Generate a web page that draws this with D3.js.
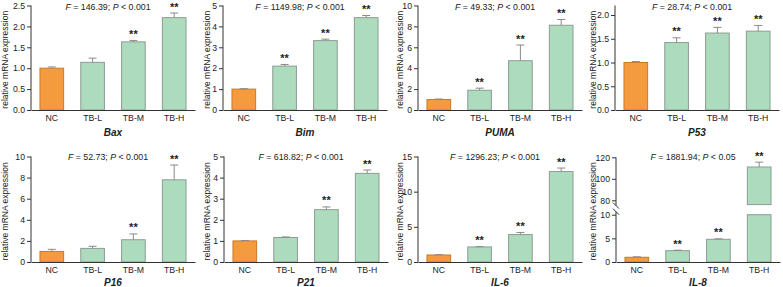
<!DOCTYPE html>
<html>
<head>
<meta charset="utf-8">
<script src="https://cdn.jsdelivr.net/npm/d3@7"></script>
<style>
  body { margin: 0; background: #fff; }
  svg { display: block; font-family: "Liberation Sans", Arial, sans-serif; }
  .tick text { font-size: 8.7px; fill: #222; }
  .domain, .tick line { stroke: #333; }
</style>
</head>
<body>
<div id="chart"></div>
<script>
// data
var groups = ["NC", "TB-L", "TB-M", "TB-H"];
var genes = ["Bax", "Bim", "PUMA", "P53", "P16", "P21", "IL-6", "IL-8"];
var fValues = ["146.39", "1149.98", "49.33", "28.74", "52.73", "618.82", "1296.23", "1881.94"];
var pValues = ["0.001", "0.001", "0.001", "0.001", "0.001", "0.001", "0.001", "0.05"];

var means = [
  [1.0, 1.14, 1.63, 2.21],
  [1.0, 2.1, 3.32, 4.42],
  [1.0, 1.89, 4.72, 8.11],
  [1.0, 1.42, 1.62, 1.66],
  [1.0, 1.29, 2.11, 7.79],
  [1.0, 1.16, 2.48, 4.2],
  [1.0, 2.14, 3.9, 12.86],
  [1.0, 2.4, 4.8, 111]
];
var errors = [
  [0.03, 0.1, 0.03, 0.11],
  [0.02, 0.08, 0.07, 0.1],
  [0.05, 0.2, 1.5, 0.55],
  [0.02, 0.1, 0.12, 0.12],
  [0.2, 0.2, 0.55, 1.4],
  [0.02, 0.03, 0.13, 0.16],
  [0.05, 0.05, 0.3, 0.5],
  [0.1, 0.1, 0.1, 4.5]
];
var stars = [
  ["", "", "**", "**"],
  ["", "**", "**", "**"],
  ["", "**", "**", "**"],
  ["", "**", "**", "**"],
  ["", "", "**", "**"],
  ["", "", "**", "**"],
  ["", "**", "**", "**"],
  ["", "**", "**", "**"]
];
var yMax = [2.5, 5, 10, 2.2, 10, 5, 15, 120];
var yTicks = [
  [0, 0.5, 1, 1.5, 2, 2.5],
  [0, 1, 2, 3, 4, 5],
  [0, 2, 4, 6, 8, 10],
  [0, 0.5, 1, 1.5, 2],
  [0, 2, 4, 6, 8, 10],
  [0, 1, 2, 3, 4, 5],
  [0, 5, 10, 15],
  [0, 5, 10]
];
// IL-8 broken axis
var lowDomain = [0, 10];
var highDomain = [76, 120];
var highTicks = [80, 100, 120];

// layout
var width = 783, height = 287;
var axisX = [31, 223, 418, 615, 31, 224, 418, 616];
var labelX = [8, 210, 403, 596, 8, 210, 403, 596];
var rowBase = [110, 262];
var rowTop = [5.5, 156.5];
var geneDy = [25.5, 23.5];
var orange = "#f39b3e", orangeStroke = "#c77a2c";
var green = "#acdcbd", greenStroke = "#8e9c93";
var errColor = "#8a8a8a";

var svg = d3.select("#chart").append("svg")
  .attr("width", width)
  .attr("height", height);

genes.forEach(function (gene, i) {
  var row = i < 4 ? 0 : 1;
  var x0 = axisX[i];
  var base = rowBase[row];
  var top = rowTop[row];
  var g = svg.append("g");

  var xScale = d3.scaleBand()
    .domain(groups)
    .range([x0, x0 + 164])
    .paddingInner(0.42)
    .paddingOuter(0.22);

  var broken = gene === "IL-8";
  var yScale, yHigh;
  if (broken) {
    yScale = d3.scaleLinear().domain(lowDomain).range([base, base - 47.3]);
    yHigh = d3.scaleLinear().domain(highDomain).range([base - 57.4, top + 0.8]);
  } else {
    yScale = d3.scaleLinear().domain([0, yMax[i]]).range([base, top]);
  }
  var fmt = (yMax[i] < 3 && gene !== "Bim") ? d3.format(".1f") : d3.format("d");

  // bars
  groups.forEach(function (grp, j) {
    var v = means[i][j];
    var fill = j === 0 ? orange : green;
    var stroke = j === 0 ? orangeStroke : greenStroke;
    var bx = xScale(grp), bw = xScale.bandwidth();
    var topY, errY;
    if (broken && v > lowDomain[1]) {
      g.append("rect")
        .attr("x", bx).attr("y", yScale(lowDomain[1]))
        .attr("width", bw).attr("height", base - yScale(lowDomain[1]))
        .attr("fill", fill).attr("stroke", stroke).attr("stroke-width", 1);
      g.append("rect")
        .attr("x", bx).attr("y", yHigh(v))
        .attr("width", bw).attr("height", yHigh(highDomain[0]) - yHigh(v))
        .attr("fill", fill).attr("stroke", stroke).attr("stroke-width", 1);
      topY = yHigh(v);
      errY = yHigh(v + errors[i][j]);
    } else {
      g.append("rect")
        .attr("x", bx).attr("y", yScale(v))
        .attr("width", bw).attr("height", base - yScale(v))
        .attr("fill", fill).attr("stroke", stroke).attr("stroke-width", 1);
      topY = yScale(v);
      errY = yScale(v + errors[i][j]);
    }
    var cx = bx + bw / 2;
    g.append("line")
      .attr("x1", cx).attr("x2", cx).attr("y1", topY).attr("y2", errY)
      .attr("stroke", errColor).attr("stroke-width", 1);
    g.append("line")
      .attr("x1", cx - 4).attr("x2", cx + 4).attr("y1", errY).attr("y2", errY)
      .attr("stroke", errColor).attr("stroke-width", 1);
    if (stars[i][j]) {
      g.append("text")
        .attr("x", cx).attr("y", errY - 2.5)
        .attr("text-anchor", "middle")
        .attr("font-size", "11px").attr("font-weight", "bold").attr("fill", "#222")
        .text(stars[i][j]);
    }
  });

  // y axis
  if (broken) {
    var lowAxis = g.append("g")
      .attr("transform", "translate(" + x0 + ",0)")
      .call(d3.axisLeft(yScale).tickValues(yTicks[i]).tickSize(4).tickPadding(2).tickSizeOuter(0).tickFormat(d3.format("d")));
    lowAxis.select(".domain").attr("d", "M0," + base + "V" + (yScale(10) - 3));
    var highAxis = g.append("g")
      .attr("transform", "translate(" + x0 + ",0)")
      .call(d3.axisLeft(yHigh).tickValues(highTicks).tickSize(4).tickPadding(2).tickSizeOuter(0).tickFormat(d3.format("d")));
    highAxis.select(".domain").attr("d", "M0," + yHigh(120) + "V" + (yHigh(highDomain[0]) + 1));
    [yScale(10) - 3, yHigh(highDomain[0]) + 1].forEach(function (yy) {
      g.append("line")
        .attr("x1", x0 - 3).attr("x2", x0 + 3).attr("y1", yy - 3).attr("y2", yy + 3)
        .attr("stroke", "#333").attr("stroke-width", 1);
    });
  } else {
    g.append("g")
      .attr("transform", "translate(" + x0 + ",0)")
      .call(d3.axisLeft(yScale).tickValues(yTicks[i]).tickSize(4).tickPadding(2).tickSizeOuter(0).tickFormat(fmt));
    g.select(".domain").attr("d", "M0," + base + "V" + top);
  }

  // x axis
  g.append("g")
    .attr("transform", "translate(0," + base + ")")
    .call(d3.axisBottom(xScale).tickSize(0).tickSizeOuter(0).tickPadding(5));

  // gene name
  g.append("text")
    .attr("x", xScale("TB-L") + xScale.bandwidth() + (xScale.step() - xScale.bandwidth()) / 2)
    .attr("y", base + geneDy[row])
    .attr("text-anchor", "middle")
    .attr("font-size", "10px").attr("font-weight", "bold").attr("font-style", "italic")
    .attr("fill", "#222")
    .text(gene);

  // y label
  g.append("text")
    .attr("transform", "translate(" + labelX[i] + "," + ((base + top) / 2 + 2) + ") rotate(-90)")
    .attr("text-anchor", "middle")
    .attr("font-size", "8.5px").attr("fill", "#222")
    .text("relative mRNA expression");

  // title
  var t = g.append("text")
    .attr("x", x0 + 77)
    .attr("y", row === 0 ? 9.5 : 160)
    .attr("text-anchor", "middle")
    .attr("font-size", "8.8px").attr("fill", "#222");
  t.append("tspan").attr("font-style", "italic").text("F");
  t.append("tspan").text(" = " + fValues[i] + "; ");
  t.append("tspan").attr("font-style", "italic").text("P");
  t.append("tspan").text(" < " + pValues[i]);
});
</script>
</body>
</html>
